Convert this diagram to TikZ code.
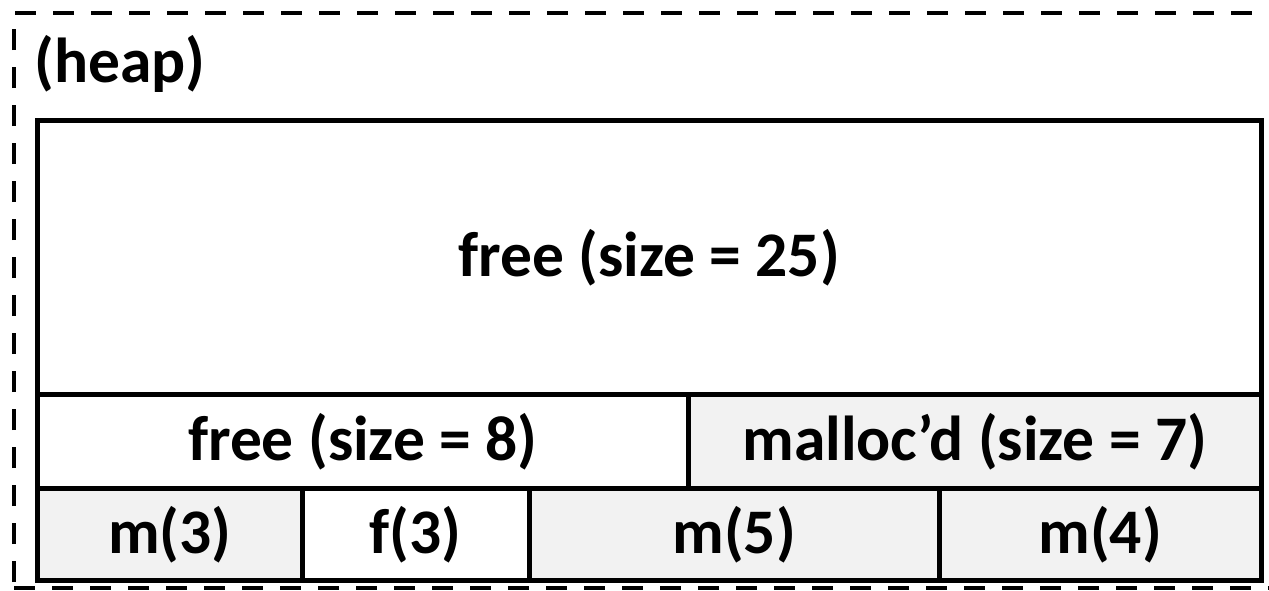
\documentclass[tikz,border=0pt]{standalone}
\usepackage{fontspec}
\setmainfont{Carlito}
\definecolor{cellgray}{HTML}{F2F2F2}
\begin{document}
\begin{tikzpicture}[x=1pt,y=-1pt,
  bigfont/.style={font=\fontsize{63.5}{66}\selectfont\bfseries},
  cell/.style={draw=black,line width=4.5pt,rectangle,inner sep=0pt,anchor=north west,bigfont},
  mcell/.style={cell,fill=cellgray},
  fcell/.style={cell,fill=white},
  heapborder/.style={draw=black,line width=4pt,dash pattern=on 21pt off 17pt}]
\useasboundingbox (0,0) rectangle (1269,590);
\draw[heapborder] (14,620) -- (14,13) -- (1300,13);
\draw[heapborder] (14,588) -- (1300,588);
\node[anchor=west,bigfont,inner sep=0pt] (heap) at (34,64) {(heap)};
\node[fcell,minimum width=1224pt,minimum height=274pt] (r1) at (35,118) {free (size = 25)};
\node[fcell,minimum width=651pt,minimum height=94pt] (r2a) at (35,392) {free (size = 8)};
\node[mcell,minimum width=573pt,minimum height=94pt] (r2b) at (686,392) {malloc’d (size = 7)};
\node[mcell,minimum width=265pt,minimum height=92pt] (r3a) at (35,486) {m(3)};
\node[fcell,minimum width=227pt,minimum height=92pt] (r3b) at (300,486) {f(3)};
\node[mcell,minimum width=410pt,minimum height=92pt] (r3c) at (527,486) {m(5)};
\node[mcell,minimum width=322pt,minimum height=92pt] (r3d) at (937,486) {m(4)};
\end{tikzpicture}
\end{document}
